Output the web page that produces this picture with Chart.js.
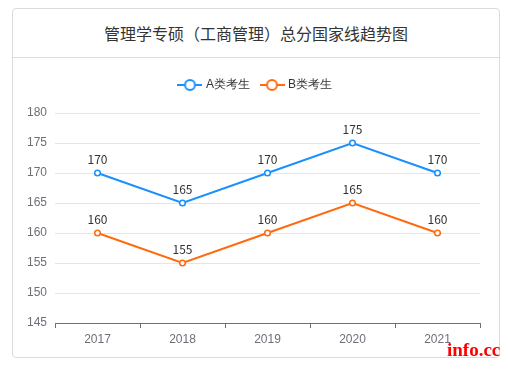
<!DOCTYPE html>
<html>
<head>
<meta charset="utf-8">
<script src="https://cdn.jsdelivr.net/npm/chart.js@4"></script>
<style>
    html, body { margin: 0; padding: 0; background: #fff; }
    body { width: 508px; height: 373px; position: relative; overflow: hidden; font-family: "Noto Sans CJK SC", sans-serif; }
    .card { position: absolute; left: 12px; top: 8px; width: 486px; height: 348px; border: 1px solid #dcdcdc; border-radius: 4px; }
    .title { height: 48px; line-height: 48px; text-align: center; font-size: 16px; color: #333; border-bottom: 1px solid #dcdcdc; }
    .box { position: relative; width: 486px; height: 299px; }
    .mark { position: absolute; left: 447px; top: 339px; font: bold 19px "Liberation Serif", serif; color: #ff0000; }
</style>
</head>
<body>
<div class="card">
    <div class="title">管理学专硕（工商管理）总分国家线趋势图</div>
    <div class="box"><canvas id="chart"></canvas></div>
</div>
<div class="mark">info.cc</div>
<script>
// データ
const years = ['2017', '2018', '2019', '2020', '2021'];
const scoreA = [170, 165, 170, 175, 170];
const scoreB = [160, 155, 160, 165, 160];
const seriesNames = ['A类考生', 'B类考生'];
const colorA = '#1890ff';
const colorB = '#ff6a0e';

// 凡例アイコン（線＋丸）
function legendIcon(color) {
    const c = document.createElement('canvas');
    c.width = 25;
    c.height = 14;
    const g = c.getContext('2d');
    g.strokeStyle = color;
    g.lineWidth = 2;
    g.beginPath();
    g.moveTo(0, 7);
    g.lineTo(25, 7);
    g.stroke();
    g.beginPath();
    g.arc(12.5, 7, 5, 0, Math.PI * 2);
    g.fillStyle = '#fff';
    g.fill();
    g.stroke();
    return c;
}

// 値ラベル
const valueLabels = {
    id: 'valueLabels',
    beforeInit(chart) {
        // 凡例の下に余白を足す
        const fit = chart.legend.fit;
        chart.legend.fit = function () {
            fit.call(this);
            this.height += 12;
        };
    },
    beforeDraw(chart) {
        // 凡例はキャンバス全幅で中央寄せ
        chart.legend.left = 0;
        chart.legend.right = chart.width;
        chart.legend.width = chart.width;
    },
    afterDatasetsDraw(chart) {
        const ctx = chart.ctx;
        ctx.save();
        ctx.font = '12px "Noto Sans CJK SC", sans-serif';
        ctx.fillStyle = '#333';
        ctx.textAlign = 'center';
        ctx.textBaseline = 'middle';
        chart.data.datasets.forEach((ds, i) => {
            chart.getDatasetMeta(i).data.forEach((pt, j) => {
                ctx.fillText(ds.data[j], pt.x, pt.y - 14);
            });
        });
        ctx.restore();
    }
};

const ctx = document.getElementById('chart').getContext('2d');
const chart = new Chart(ctx, {
    type: 'line',
    data: {
        labels: years,
        datasets: [
            {
                label: seriesNames[0],
                data: scoreA,
                borderColor: colorA,
                backgroundColor: '#fff',
                borderWidth: 2,
                pointRadius: 2.8,
                pointBorderWidth: 1.5
            },
            {
                label: seriesNames[1],
                data: scoreB,
                borderColor: colorB,
                backgroundColor: '#fff',
                borderWidth: 2,
                pointRadius: 2.8,
                pointBorderWidth: 1.5
            }
        ]
    },
    options: {
        responsive: true,
        maintainAspectRatio: false,
        animation: false,
        layout: { padding: { top: 9, right: 19, bottom: 0, left: 0 } },
        scales: {
            x: {
                offset: true,
                grid: { drawOnChartArea: false, drawTicks: true, tickLength: 5, color: '#6e7079', offset: true },
                border: { color: '#6e7079' },
                ticks: { color: '#6e7079', font: { size: 12 }, padding: 4 },
                afterFit(scale) { scale.height = 34; }
            },
            y: {
                min: 145,
                max: 180,
                ticks: { stepSize: 5, color: '#6e7079', font: { size: 12 }, padding: 8 },
                grid: { color: '#e0e6f1', drawTicks: false },
                border: { display: false },
                afterFit(scale) { scale.width = 42; }
            }
        },
        plugins: {
            legend: {
                labels: {
                    usePointStyle: true,
                    pointStyleWidth: 20,
                    color: '#333',
                    font: { size: 12 },
                    padding: 12,
                    generateLabels(chart) {
                        return chart.data.datasets.map((ds, i) => ({
                            text: ds.label,
                            pointStyle: legendIcon(ds.borderColor),
                            fillStyle: '#fff',
                            strokeStyle: ds.borderColor,
                            lineWidth: 0,
                            fontColor: '#333',
                            datasetIndex: i
                        }));
                    }
                }
            },
            tooltip: { enabled: false }
        }
    },
    plugins: [valueLabels]
});
</script>
</body>
</html>
